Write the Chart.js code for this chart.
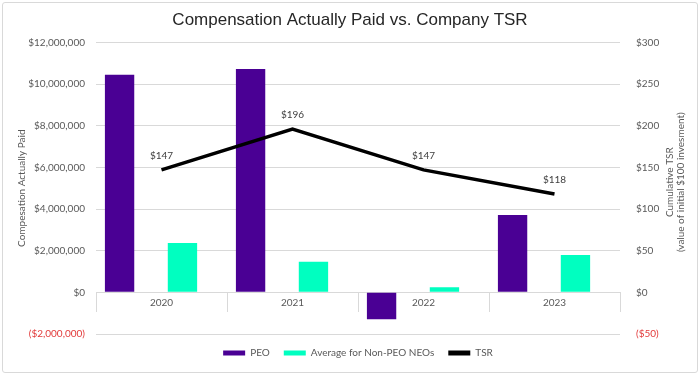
<!DOCTYPE html>
<html><head><meta charset="utf-8">
<script src="https://cdn.jsdelivr.net/npm/chart.js@4/dist/chart.umd.min.js"></script>
<style>
html,body{margin:0;padding:0;background:#fff;}
#wrap{position:relative;width:700px;height:375px;}
#frame{position:absolute;left:2px;top:2px;width:694px;height:369px;border:1px solid #d9d9d9;border-radius:3px;pointer-events:none;}
canvas{display:block;}
</style></head><body>
<div id="wrap"><canvas id="c" width="700" height="375"></canvas><div id="frame"></div></div>
<script>
const years = ['2020', '2021', '2022', '2023'];
const peoCAP = [10450000, 10720000, -1290000, 3710000];
const neoCAP = [2370000, 1470000, 250000, 1790000];
const tsr = [147, 196, 147, 118];
const leftTicks = [-2000000, 0, 2000000, 4000000, 6000000, 8000000, 10000000, 12000000];
const rightTicks = [-50, 0, 50, 100, 150, 200, 250, 300];

const GRID = '#d9d9d9';
const TXT = '#595959';
const NEG = '#e23a3a';
const FONT = 'Lato';

function money(v) {
  const s = '$' + Math.abs(v).toLocaleString('en-US');
  return v < 0 ? '(' + s + ')' : s;
}
const spacer = () => ({ type: 'bar', label: '', data: years.map(() => null), yAxisID: 'y', spacer: true });

const labelPlugin = {
  id: 'tsrLabels',
  afterDatasetsDraw(chart) {
    const ctx = chart.ctx;
    const idx = chart.data.datasets.findIndex(d => d.type === 'line');
    const meta = chart.getDatasetMeta(idx);
    ctx.save();
    ctx.font = '10px ' + FONT;
    ctx.fillStyle = '#404040';
    ctx.textAlign = 'center';
    ctx.textBaseline = 'middle';
    meta.data.forEach((el, i) => ctx.fillText('$' + tsr[i], el.x, el.y - 14));
    ctx.restore();
  }
};
const rightTitlePlugin = {
  id: 'rightTitle',
  afterDraw(chart) {
    const ctx = chart.ctx;
    ctx.save();
    ctx.translate(675, (chart.chartArea.top + chart.chartArea.bottom) / 2 - 6);
    ctx.rotate(-Math.PI / 2);
    ctx.font = '10px ' + FONT;
    ctx.fillStyle = TXT;
    ctx.textAlign = 'center';
    ctx.textBaseline = 'middle';
    ctx.fillText('Cumulative TSR', 0, -5.5);
    ctx.fillText('(value of initial $100 invesment)', 0, 5.5);
    ctx.restore();
  }
};

new Chart(document.getElementById('c'), {
  data: {
    labels: years,
    datasets: [
      { type: 'line', label: 'TSR', data: tsr, yAxisID: 'y1', borderColor: '#000000', backgroundColor: '#000000',
        borderWidth: 3.5, pointRadius: 0, tension: 0, order: -1 },
      { type: 'bar', label: 'PEO', data: peoCAP, yAxisID: 'y', backgroundColor: '#4a0094' },
      spacer(), spacer(),
      { type: 'bar', label: 'Average for Non-PEO NEOs', data: neoCAP, yAxisID: 'y', backgroundColor: '#00ffc0' },
      spacer()
    ]
  },
  options: {
    responsive: false,
    animation: false,
    datasets: { bar: { categoryPercentage: 0.8, barPercentage: 1.4 } },
    layout: { padding: { left: 0, right: 0, top: 0, bottom: 7 } },
    plugins: {
      title: { display: true, text: 'Compensation Actually Paid vs. Company TSR', color: '#262626',
        font: { family: 'Liberation Sans', size: 17, weight: 'normal' }, padding: { top: 10, bottom: 12 } },
      legend: {
        position: 'bottom',
        fullSize: false,
        labels: {
          font: { family: FONT, size: 10 }, color: TXT, boxWidth: 22, boxHeight: 5, padding: 14,
          generateLabels(chart) {
            const items = Chart.defaults.plugins.legend.labels.generateLabels(chart);
            const order = ['PEO', 'Average for Non-PEO NEOs', 'TSR'];
            return items.filter(it => !chart.data.datasets[it.datasetIndex].spacer)
              .map(it => Object.assign(it, { lineWidth: 0, strokeStyle: 'transparent' }))
              .sort((a, b) => order.indexOf(a.text) - order.indexOf(b.text));
          }
        }
      },
      tooltip: { enabled: false }
    },
    scales: {
      x: {
        type: 'category',
        position: { y: 0 },
        offset: true,
        grid: { offset: true, drawOnChartArea: false, drawTicks: true, tickLength: 19, color: GRID },
        border: { display: true, color: GRID },
        ticks: { font: { family: FONT, size: 10 }, color: TXT, padding: -15, maxRotation: 0 },
        afterFit(s) { s.height = 0; }
      },
      y: {
        type: 'linear', position: 'left', min: -2000000, max: 12000000,
        afterBuildTicks(s) { s.ticks = leftTicks.map(v => ({ value: v })); },
        ticks: { font: { family: FONT, size: 10 }, padding: 11, callback: v => money(v),
          color: c => (c.tick && c.tick.value < 0 ? NEG : TXT) },
        grid: { color: GRID, drawTicks: false },
        border: { display: false },
        title: { display: true, text: 'Compesation Actually Paid', color: TXT, font: { family: FONT, size: 10 },
          padding: { top: 16, bottom: 0 } },
        afterFit(s) { s.width = 96; }
      },
      y1: {
        type: 'linear', position: 'right', min: -50, max: 300,
        afterBuildTicks(s) { s.ticks = rightTicks.map(v => ({ value: v })); },
        ticks: { font: { family: FONT, size: 10 }, padding: 8, callback: v => money(v),
          color: c => (c.tick && c.tick.value < 0 ? NEG : TXT) },
        grid: { display: false },
        border: { display: false },
        afterFit(s) { s.width = 80; }
      }
    }
  },
  plugins: [labelPlugin, rightTitlePlugin]
});
</script>
</body></html>
